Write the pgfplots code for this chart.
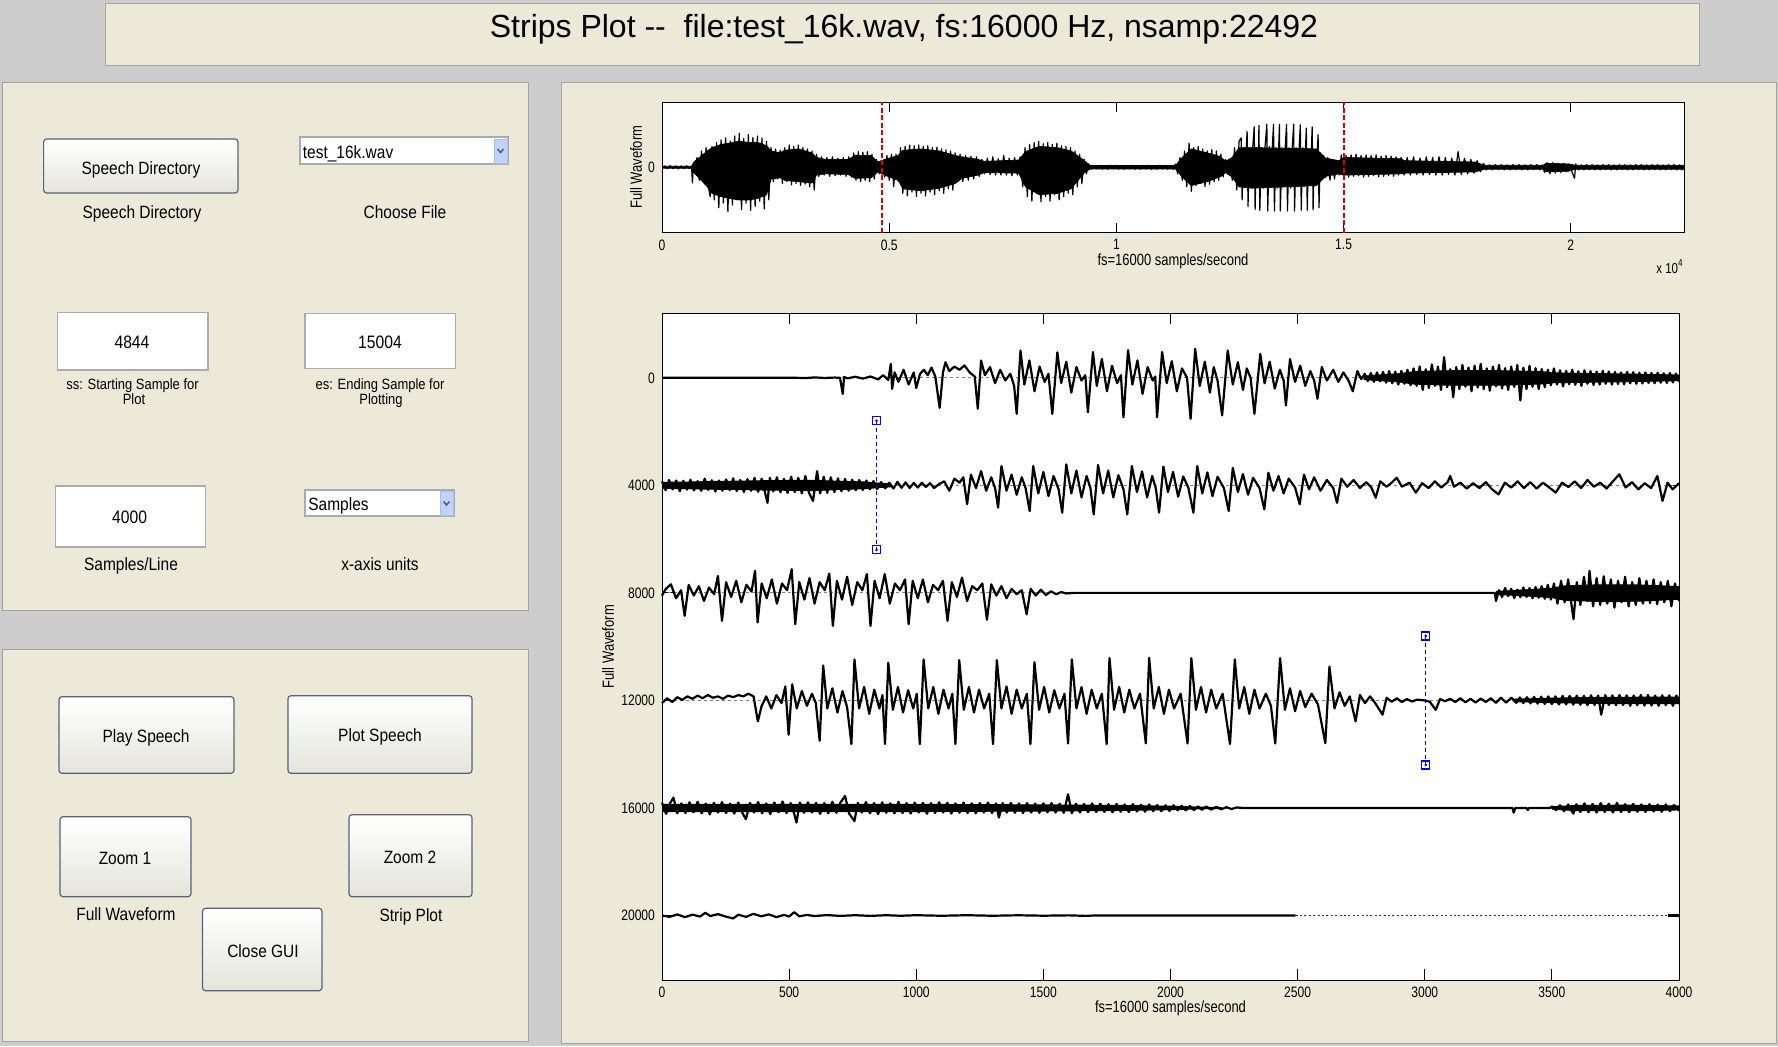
\documentclass[border=0pt]{standalone}
\usepackage{pgfplots}
\pgfplotsset{compat=1.18}
\usepackage{fontspec}
\setmainfont{Liberation Sans}
\newfontfamily\guifont[FakeStretch=0.87]{Liberation Sans}
\newfontfamily\plotfont[FakeStretch=0.8]{Liberation Sans}
\definecolor{guibg}{RGB}{205,205,205}
\definecolor{beige}{RGB}{236,233,216}
\definecolor{panelline}{RGB}{165,165,160}
\definecolor{btnborder}{RGB}{85,100,120}
\definecolor{btnbot}{RGB}{228,228,220}
\definecolor{editborder}{RGB}{168,172,176}
\definecolor{arrowfill}{RGB}{193,211,251}
\definecolor{arrowline}{RGB}{170,190,235}
\definecolor{arrowdark}{RGB}{77,97,133}
\definecolor{mred}{RGB}{225,0,0}
\definecolor{mblue}{RGB}{0,0,255}
\tikzset{
 panel/.style={fill=beige, draw=panelline, line width=0.5pt},
 btn/.style={draw=btnborder, line width=0.6pt, rounded corners=1.5pt, top color=white, bottom color=btnbot},
 edit/.style={draw=editborder, line width=0.6pt, fill=white},
 arrowbox/.style={draw=arrowline, line width=0.4pt, fill=arrowfill},
 chev/.style={draw=arrowdark, line width=0.8pt},
 gui/.style={anchor=base, inner sep=0pt, font=\guifont\fontsize{8.9}{10}\selectfont},
 guis/.style={anchor=base, inner sep=0pt, font=\guifont\fontsize{7.45}{9}\selectfont},
 guib/.style={anchor=base, inner sep=0pt, font=\guifont\fontsize{9}{10}\selectfont},
}
\pgfplotsset{
 rowax/.style={at={(331pt,#1)}, anchor=west, scale only axis, width=508.5pt, height=53.765pt,
   xmin=0, xmax=4000, ymin=-2000, ymax=2000, hide axis, clip=false},
 wave/.style={black, line width=1.1pt, line join=round},
 core/.style={fill=black, draw=black, line width=0.6pt, line join=round},
 base/.style={gray, line width=0.4pt, dash pattern=on 1.5pt off 1.5pt},
}
\begin{document}
\begin{tikzpicture}
\begin{scope}[x=0.5pt,y=-0.5pt]
\fill[guibg] (0,0) rectangle (1778,1046);
\draw[panel] (105,3) rectangle (1699,65);
\draw[panel] (2,82) rectangle (528,610);
\draw[panel] (2,649) rectangle (528,1041);
\draw[panel] (561,82) rectangle (1776,1043);
\node[anchor=base, inner sep=0pt, font=\fontsize{16}{19}\selectfont] at (904,37) {Strips Plot -{}-\ \ file:test\_16k.wav, fs:16000 Hz, nsamp:22492};
% upper left panel
\draw[btn] (43.6,139) rectangle (238,193);
\node[gui] at (141,174) {Speech Directory};
\node[gui] at (142,218) {Speech Directory};
\draw[edit] (300,137) rectangle (508,164);
\draw[arrowbox] (494,139) rectangle (507,163);
\draw[chev] (497.5,149) -- (500.5,152.5) -- (503.5,149);
\node[gui, anchor=base west] at (302.5,158) {test\_16k.wav};
\node[gui] at (405,218) {Choose File};
\draw[edit] (57.5,312.5) rectangle (208,370);
\node[guib] at (132,348.5) {4844};
\node[guis] at (132.5,389.5) {ss: Starting Sample for};
\node[guis] at (134,404.5) {Plot};
\draw[edit] (305,313.6) rectangle (455.7,368.6);
\node[guib] at (380,348.5) {15004};
\node[guis] at (380,389.5) {es: Ending Sample for};
\node[guis] at (381,404.5) {Plotting};
\draw[edit] (55.7,486) rectangle (205.7,547);
\node[guib] at (129.6,523.5) {4000};
\node[gui] at (131,570) {Samples/Line};
\draw[edit] (305,490) rectangle (454,516);
\draw[arrowbox] (440,491.5) rectangle (453,515);
\draw[chev] (443.5,501.5) -- (446.5,505) -- (449.5,501.5);
\node[gui, anchor=base west] at (308,510) {Samples};
\node[gui] at (380,570) {x-axis units};
% lower left panel
\draw[btn] (59,696.7) rectangle (234,773.3);
\node[gui] at (146,742.7) {Play Speech};
\draw[btn] (288,695.7) rectangle (472,773.3);
\node[gui] at (380,741.7) {Plot Speech};
\draw[btn] (60,816.7) rectangle (191,896.7);
\node[gui] at (125,864.4) {Zoom 1};
\node[gui] at (126,920) {Full Waveform};
\draw[btn] (349,814.7) rectangle (472,896.7);
\node[gui] at (410,863.7) {Zoom 2};
\node[gui] at (411,921) {Strip Plot};
\draw[btn] (202.5,908.3) rectangle (322,990.7);
\node[gui] at (263,957.4) {Close GUI};
\node[anchor=base east, inner sep=0pt, font=\plotfont\fontsize{7.2}{9}\selectfont] at (1684,273) {x 10\textsuperscript{4}};
\end{scope}

% ---------------- top: full waveform ----------------
\begin{axis}[
 at={(331pt,-51pt)}, anchor=north west,
 scale only axis, width=511pt, height=65.25pt,
 xmin=0, xmax=22492, ymin=-1, ymax=1,
 axis background/.style={fill=white},
 axis line style={black, line width=0.5pt},
 tick style={black, line width=0.5pt},
 tick align=inside, xtick pos=both, ytick pos=both,
 major tick length=5pt,
 xtick={0,5000,10000,15000,20000},
 xticklabels={0,0.5,1,1.5,2},
 ytick={0}, yticklabels={0},
 scaled ticks=false,
 /pgf/number format/assume math mode=true,
 tick label style={font=\plotfont\fontsize{7.55}{9}\selectfont},
 label style={font=\plotfont\fontsize{8.1}{10}\selectfont},
 xlabel={fs=16000 samples/second},
 ylabel={Full Waveform},
 xlabel style={at={(axis description cs:0.5,-0.222)}, anchor=center},
 ylabel style={at={(axis description cs:-0.0254,0.5)}, anchor=center},
]
% dense core of the waveform (envelope)
\addplot[fill=black, draw=black, line width=0.4pt, line join=round] coordinates {
(0,.015)(650,.015)(700,.08)(1000,.25)(1100,.3)(1300,.35)(1500,.37)(1700,.4)(1900,.38)(2100,.38)(2300,.33)(2400,.25)(2600,.22)(2700,.26)(3000,.28)(3300,.22)(3400,.15)(3600,.12)(4100,.12)(4250,.18)(4600,.18)(4750,.08)(4900,.12)(5200,.18)(5300,.26)(5700,.28)(6100,.25)(6450,.18)(6600,.16)(6950,.12)(7100,.09)(7850,.11)(8000,.24)(8300,.32)(8700,.3)(9000,.25)(9300,.1)(9420,.025)(11300,.025)(11450,.15)(11650,.28)(12000,.22)(12300,.16)(12400,.09)(12550,.15)(12700,.3)(13000,.3)(14400,.28)(14600,.14)(14900,.1)(15000,.15)(16250,.13)(16350,.1)(17900,.08)(18100,.03)(19400,.03)(19450,.06)(19950,.05)(20100,.03)(22492,.03)
(22492,-.03)(20100,-.03)(19950,-.06)(19450,-.07)(19400,-.03)(18100,-.03)(17900,-.07)(16350,-.09)(16250,-.1)(15000,-.12)(14900,-.1)(14600,-.14)(14400,-.28)(13000,-.32)(12700,-.3)(12550,-.15)(12400,-.08)(12300,-.14)(12000,-.22)(11650,-.28)(11450,-.15)(11300,-.025)(9420,-.025)(9300,-.08)(9000,-.33)(8700,-.4)(8300,-.42)(8000,-.3)(7850,-.09)(7100,-.08)(6950,-.12)(6600,-.17)(6450,-.25)(6100,-.32)(5700,-.36)(5300,-.33)(5200,-.2)(4900,-.12)(4750,-.07)(4600,-.16)(4250,-.17)(4100,-.11)(3600,-.1)(3400,-.12)(3300,-.24)(3000,-.22)(2700,-.2)(2600,-.16)(2400,-.18)(2300,-.42)(2100,-.48)(1900,-.5)(1700,-.5)(1500,-.48)(1300,-.45)(1100,-.4)(1000,-.3)(700,-.08)(650,-.015)(0,-.015)
};
\addplot[black, line width=0.6pt, line join=round] coordinates {
(0,0)(60,.02)(120,-.02)(180,.025)(240,-.02)(300,.02)(360,-.025)(420,.02)(480,-.02)(540,.025)(600,-.02)(650,.01)(670,-.24)(690,.05)(720,-.1)(770,.15)(820,-.2)(870,.25)(920,-.18)(970,.3)(1020,-.3)(1060,-.45)(1100,.32)
(1150,-.5)(1200,.38)(1250,-.62)(1300,.42)(1350,-.55)(1400,.45)(1450,-.68)(1500,.4)(1550,-.58)(1600,.48)(1650,-.5)(1700,.52)(1750,-.65)(1800,.44)(1850,-.55)(1900,.5)(1950,-.66)(2000,.46)(2050,-.6)(2100,.48)(2150,-.52)(2200,.45)(2250,-.64)(2300,.4)(2350,-.5)
(2400,.3)(2450,-.22)(2500,.28)(2550,-.18)(2600,.26)
(2650,-.25)(2700,.3)(2750,-.22)(2800,.34)(2850,-.27)(2900,.32)(2950,-.25)(3000,.34)(3050,-.28)(3100,.3)(3150,-.26)(3200,.28)(3250,-.3)(3300,.25)(3350,-.35)(3400,.2)
(3450,-.14)(3510,.16)(3570,-.12)(3630,.15)(3690,-.14)(3750,.16)(3810,-.13)(3870,.14)(3930,-.12)(3990,.15)(4050,-.14)(4110,.16)(4170,-.15)
(4220,.22)(4270,-.2)(4320,.24)(4370,-.22)(4420,.23)(4470,-.2)(4520,.24)(4570,-.22)(4620,.2)(4670,-.18)(4720,.12)(4780,-.1)(4840,.08)
(4900,-.15)(4950,.18)(5000,-.2)(5050,.2)(5100,-.3)(5150,.2)(5200,-.22)
(5250,.3)(5300,-.4)(5350,.32)(5400,-.44)(5450,.34)(5500,-.38)(5550,.33)(5600,-.45)(5650,.34)(5700,-.4)(5750,.32)(5800,-.44)(5850,.33)(5900,-.38)(5950,.3)(6000,-.42)(6050,.31)(6100,-.36)(6150,.28)(6200,-.4)(6250,.27)(6300,-.33)(6350,.25)(6400,-.35)(6450,.22)
(6500,-.2)(6560,.2)(6620,-.22)(6680,.18)(6740,-.2)(6800,.17)(6860,-.18)(6920,.16)(6980,-.14)
(7040,.12)(7100,-.1)(7160,.14)(7220,-.11)(7280,.16)(7340,-.12)(7400,.13)(7460,-.12)(7520,.18)(7580,-.12)(7640,.14)(7700,-.13)(7760,.15)(7820,-.12)(7880,.16)
(7940,-.3)(7990,.3)(8040,-.45)(8090,.35)(8140,-.52)(8190,.38)(8240,-.4)(8290,.4)(8340,-.53)(8390,.36)(8440,-.45)(8490,.38)(8540,-.52)(8590,.35)(8640,-.42)(8690,.37)(8740,-.5)(8790,.33)(8840,-.45)(8890,.32)(8940,-.4)(8990,.3)(9040,-.42)(9090,.25)(9140,-.3)(9190,.2)(9240,-.25)(9290,.12)(9340,-.1)(9390,.05)
(9450,-.03)(9510,.03)(9570,-.025)(9630,.03)(9690,-.03)(9750,.025)(9810,-.03)(9870,.03)(9930,-.025)(9990,.03)(10050,-.03)(10110,.025)(10170,-.03)(10230,.03)(10290,-.025)(10350,.03)(10410,-.03)(10470,.025)(10530,-.03)(10590,.03)(10650,-.025)(10710,.03)(10770,-.03)(10830,.025)(10890,-.03)(10950,.03)(11010,-.025)(11070,.03)(11130,-.03)(11190,.025)(11250,-.03)(11300,.05)
(11350,-.1)(11400,.15)(11450,-.2)(11500,.25)(11550,-.3)(11600,.37)(11650,-.37)(11700,.3)(11750,-.28)(11800,.32)(11850,-.25)(11900,.28)(11950,-.3)(12000,.25)(12050,-.26)(12100,.27)(12150,-.22)(12200,.25)(12250,-.2)(12300,.2)(12350,-.15)
(12400,.12)(12450,-.1)(12500,.12)(12550,-.2)(12600,.3)(12650,-.35)(12700,.4)
(12747,.45)(12767,-.5)(12797,.3)(12827,-.3)(12857,.28)
(12877,.55)(12897,-.6)(12930,.3)(12965,-.32)(13000,.3)
(13033,.62)(13053,-.65)(13080,.3)(13110,-.3)
(13137,.64)(13157,-.66)(13190,.3)(13230,-.32)(13270,.3)
(13311,.66)(13331,-.67)(13365,.32)(13400,-.3)(13430,.3)
(13458,.66)(13478,-.67)(13510,.3)(13545,-.32)(13570,.28)
(13588,.66)(13608,-.67)(13645,.3)(13680,-.3)(13715,.3)
(13745,.66)(13765,-.67)(13800,.3)(13835,-.32)(13870,.3)
(13901,.66)(13921,-.67)(13955,.3)(13990,-.3)(14020,.28)
(14048,.65)(14068,-.66)(14100,.3)(14130,-.3)(14160,.27)
(14180,.6)(14200,-.66)(14230,.28)(14260,-.28)(14290,.25)
(14309,.62)(14329,-.65)(14360,.25)(14390,-.25)(14420,.22)
(14439,.5)(14459,-.62)(14490,.22)(14520,-.2)(14560,.18)(14600,-.16)
(14650,.15)(14700,-.2)(14750,.12)(14800,-.18)(14850,.1)(14900,-.12)
(14950,.19)(15000,-.14)(15055,.18)(15110,-.15)(15165,.19)(15220,-.14)(15275,.2)(15330,-.13)(15385,.18)(15440,-.15)(15495,.19)(15550,-.14)(15605,.18)(15660,-.13)(15715,.19)(15770,-.15)(15825,.17)(15880,-.14)(15935,.18)(15990,-.13)(16045,.17)(16100,-.14)(16155,.16)(16210,-.12)(16265,.15)
(16330,-.12)(16400,.15)(16470,-.12)(16540,.16)(16610,-.11)(16680,.14)(16750,-.12)(16820,.16)(16890,-.11)(16960,.15)(17030,-.12)(17100,.16)(17170,-.12)(17240,.15)(17310,-.11)(17380,.14)(17450,-.12)(17520,.24)(17590,-.11)(17660,.14)(17730,-.1)(17800,.12)(17870,-.09)(17940,.1)(18010,-.07)(18080,.06)
(18145,-.04)(18210,.035)(18275,-.04)(18340,.04)(18405,-.035)(18470,.04)(18535,-.04)(18600,.035)(18665,-.04)(18730,.04)(18795,-.035)(18860,.04)(18925,-.04)(18990,.035)(19055,-.04)(19120,.04)(19185,-.035)(19250,.04)(19315,-.04)(19380,.035)
(19420,-.08)(19480,.07)(19540,-.1)(19600,.07)(19660,-.09)(19720,.06)(19780,-.08)(19840,.06)(19900,-.07)(19960,.05)(20020,-.06)(20082,-.17)(20110,.05)
(20170,-.04)(20230,.035)(20290,-.04)(20350,.04)(20410,-.035)(20470,.04)(20530,-.04)(20590,.035)(20650,-.04)(20710,.04)(20770,-.035)(20830,.04)(20890,-.04)(20950,.035)(21010,-.04)(21070,.04)(21130,-.035)(21190,.04)(21250,-.04)(21310,.035)(21370,-.04)(21430,.04)(21490,-.035)(21550,.04)(21610,-.04)(21670,.035)(21730,-.04)(21790,.04)(21850,-.035)(21910,.04)(21970,-.04)(22030,.035)(22090,-.04)(22150,.04)(22210,-.035)(22270,.04)(22330,-.04)(22390,.035)(22450,-.04)(22492,.02)
};
\addplot[mred, line width=0.75pt, dash pattern=on 2.5pt off 1.25pt] coordinates {(4844,-1)(4844,1)};
\addplot[mred, line width=0.75pt, dash pattern=on 2.5pt off 1.25pt] coordinates {(15004,-1)(15004,1)};
\end{axis}

% ---------------- bottom: strip plot frame ----------------
\begin{axis}[
 at={(331pt,-156.65pt)}, anchor=north west,
 scale only axis, width=508.5pt, height=333.35pt,
 xmin=0, xmax=4000, ymin=-2400, ymax=22400, y dir=reverse,
 axis background/.style={fill=white},
 axis line style={black, line width=0.5pt},
 tick style={black, line width=0.5pt},
 tick align=inside, xtick pos=both, ytick pos=both,
 major tick length=5.5pt,
 xtick={0,500,1000,1500,2000,2500,3000,3500,4000},
 ytick={0,4000,8000,12000,16000,20000},
 scaled ticks=false,
 /pgf/number format/1000 sep={},
 /pgf/number format/assume math mode=true,
 tick label style={font=\plotfont\fontsize{7.55}{9}\selectfont},
 label style={font=\plotfont\fontsize{8.1}{10}\selectfont},
 xlabel={fs=16000 samples/second},
 ylabel={Full Waveform},
 xlabel style={at={(axis description cs:0.5,-0.04245)}, anchor=center},
 ylabel style={at={(axis description cs:-0.0531,0.5)}, anchor=center},
]
\end{axis}

% row 0
\begin{axis}[rowax=-188.91pt]
\addplot[base] coordinates {(0,0)(4000,0)};
\addplot[core] coordinates {(2760,60)(2900,150)(2960,230)(3100,260)(3300,260)(3470,220)(3500,180)(3700,150)(3900,120)(4000,100)(4000,-100)(3900,-120)(3700,-150)(3500,-180)(3470,-220)(3300,-270)(3100,-270)(2960,-230)(2900,-150)(2760,-60)};
\addplot[wave] coordinates {
(0,0)(300,0)(520,5)(560,-10)(600,15)(640,-5)(680,10)(700,0)(711,-600)(716,30)(730,-20)(760,40)(790,-30)(820,50)(850,-60)(870,100)(890,-80)(900,520)(905,-410)(915,200)(930,-150)(950,300)(970,-250)(990,200)(1000,-380)(1015,150)(1030,300)(1045,100)(1060,380)(1075,50)(1092,-1116)(1105,200)(1115,580)(1130,250)(1150,420)(1170,300)(1190,460)(1210,200)(1230,50)(1242,-1150)(1255,645)(1270,100)(1290,400)(1310,-200)(1330,300)(1350,-100)(1370,150)(1385,-300)(1395,-1340)(1410,1017)(1425,-250)(1445,650)(1465,-500)(1485,420)(1505,-150)(1520,150)(1535,-1340)(1555,950)(1570,-200)(1590,600)(1610,-550)(1630,400)(1650,-100)(1665,100)(1675,-1280)(1695,960)(1710,-300)(1730,700)(1750,-500)(1770,450)(1790,-200)(1805,100)(1815,-1470)(1833,1030)(1850,-250)(1870,650)(1890,-600)(1910,400)(1930,-100)(1940,50)(1947,-1470)(1967,960)(1985,-200)(2005,620)(2025,-500)(2045,350)(2065,0)(2079,-1525)(2097,1080)(2115,-300)(2135,600)(2155,-550)(2170,400)(2185,-100)(2203,-1400)(2225,1017)(2245,-250)(2265,580)(2285,-450)(2300,350)(2315,0)(2330,-1340)(2353,890)(2370,-200)(2390,600)(2410,-400)(2430,300)(2445,-100)(2454,-1030)(2470,700)(2490,-150)(2510,450)(2530,-300)(2550,250)(2565,-100)(2578,-780)(2595,400)(2615,-100)(2640,300)(2660,-150)(2680,200)(2700,-100)(2717,-500)(2735,250)(2750,-50)
(2764,150)(2776,-120)(2788,180)(2800,-150)(2812,200)(2824,-130)(2836,220)(2848,-180)(2860,250)(2872,-200)(2884,230)(2896,-250)(2908,260)(2920,-220)(2932,300)(2944,-280)
(2956,350)(2968,-300)(2980,420)(2992,-450)(3004,320)(3016,-380)(3028,500)(3040,-300)(3052,420)(3064,-450)(3076,770)(3088,-350)(3100,320)(3112,-720)(3124,400)(3136,-420)(3148,480)(3160,-330)(3172,380)(3184,-500)(3196,450)(3208,-360)(3220,520)(3232,-420)(3244,350)(3256,-480)(3268,420)(3280,-320)(3292,480)(3304,-400)(3316,360)(3328,-450)(3340,420)(3352,-340)(3364,480)(3376,-840)(3388,380)(3400,-420)(3412,450)(3424,-330)(3436,360)(3448,-420)(3460,330)(3472,-350)
(3484,300)(3496,-280)(3508,350)(3520,-250)(3532,280)(3544,-320)(3556,260)(3568,-240)(3580,300)(3592,-260)(3604,240)(3616,-300)(3628,280)(3640,-220)(3652,250)(3664,-270)(3676,230)(3688,-250)(3700,260)(3712,-220)(3724,240)(3736,-250)(3748,220)(3760,-230)(3772,200)(3784,-240)(3796,220)(3808,-200)(3820,210)(3832,-220)(3844,190)(3856,-210)(3868,200)(3880,-190)(3892,180)(3904,-200)(3916,190)(3928,-180)(3940,170)(3952,-190)(3964,180)(3976,-170)(3988,160)(4000,-150)
};
\end{axis}

% row 1
\begin{axis}[rowax=-242.675pt]
\addplot[base] coordinates {(0,0)(4000,0)};
\addplot[core] coordinates {(0,110)(100,120)(200,140)(300,150)(400,170)(500,180)(600,180)(700,150)(800,120)(850,80)(900,50)(900,-50)(850,-80)(800,-120)(700,-150)(600,-190)(500,-180)(400,-170)(300,-150)(200,-140)(100,-120)(0,-110)};
\addplot[wave] coordinates {
(0,150)(14,-180)(28,200)(42,-150)(56,180)(70,-220)(84,170)(98,-160)(112,210)(126,-190)(140,160)(154,-200)(168,250)(182,-170)(196,190)(210,-230)(224,180)(238,-200)(252,220)(266,-180)(280,260)(294,-210)(308,200)(322,-250)(336,230)(350,-200)(364,280)(378,-240)(392,250)(406,-300)(415,-650)(424,280)(438,-220)(452,300)(466,-260)(480,240)(494,-280)(508,320)(522,-250)(536,280)(550,-300)(564,350)(578,-280)(594,-580)(610,530)(622,-300)(636,320)(650,-280)(664,300)(678,-250)(692,260)(706,-220)(720,240)(734,-200)(748,210)(762,-180)(776,200)(790,-170)(804,180)(818,-150)(832,160)(846,-140)
(862,120)(878,-110)(894,100)(910,-120)(926,130)(942,-90)(958,110)(974,-100)(990,90)(1006,-80)(1022,100)(1038,-60)(1054,80)(1070,-100)(1090,50)
(1110,150)(1130,-200)(1150,250)(1170,100)(1185,300)(1200,-700)(1215,400)(1235,-100)(1255,530)(1275,-200)(1295,300)(1310,-100)(1322,-830)(1335,720)(1355,-200)(1375,400)(1395,-350)(1415,300)(1430,-100)(1446,-955)(1460,720)(1480,-300)(1500,500)(1520,-400)(1540,350)(1560,-150)(1574,-1017)(1590,780)(1610,-300)(1630,550)(1650,-450)(1670,350)(1685,-100)(1698,-1080)(1715,760)(1735,-300)(1755,550)(1775,-450)(1795,380)(1815,-150)(1830,-1080)(1848,720)(1868,-250)(1888,520)(1908,-450)(1928,350)(1942,-100)(1955,-1017)(1972,700)(1990,-250)(2010,500)(2030,-420)(2050,330)(2070,-80)(2090,-1017)(2105,720)(2125,-300)(2145,480)(2165,-400)(2185,320)(2210,-100)(2229,-955)(2245,650)(2265,-250)(2285,420)(2305,-350)(2325,280)(2350,-100)(2369,-890)(2385,470)(2405,-200)(2425,350)(2445,-300)(2465,250)(2490,-80)(2508,-700)(2525,400)(2545,-150)(2565,300)(2590,-200)(2615,200)(2640,-100)(2655,-650)(2672,250)(2695,-50)(2720,200)(2745,-100)(2770,120)(2790,-80)(2807,-460)(2825,150)(2850,-50)(2870,100)(2890,285)(2910,-50)(2940,100)(2965,-270)(2990,80)
(3015,-100)(3040,150)(3065,-80)(3090,120)(3100,350)(3115,-50)(3140,100)(3165,-120)(3190,80)(3215,-100)(3240,120)(3265,-150)(3290,-335)(3315,100)(3340,-80)(3365,150)(3390,-100)(3415,120)(3440,-120)(3465,100)(3490,-80)(3515,-270)(3540,100)(3565,-60)(3590,150)(3615,-100)(3640,200)(3665,-50)(3690,100)(3715,-120)(3740,150)(3765,410)(3790,-80)(3815,120)(3840,-150)(3865,80)(3890,-100)(3915,350)(3935,-580)(3955,100)(3975,-150)(4000,80)
};
\end{axis}

% row 2
\begin{axis}[rowax=-296.44pt]
\addplot[base] coordinates {(0,0)(4000,0)};
\addplot[core] coordinates {(3280,50)(3400,110)(3500,170)(3550,260)(3700,300)(3850,290)(4000,230)(4000,-230)(3850,-300)(3700,-320)(3550,-270)(3500,-170)(3400,-110)(3280,-50)};
\addplot[wave] coordinates {
(0,-100)(15,150)(35,320)(55,-200)(75,100)(89,-855)(105,300)(125,-100)(145,250)(165,-300)(185,200)(205,-50)(220,630)(236,-1040)(252,400)(272,-150)(292,450)(312,-350)(332,300)(352,50)(366,820)(376,-1100)(392,350)(412,-200)(432,500)(452,-400)(472,350)(492,100)(510,880)(524,-1165)(540,400)(560,-250)(580,550)(600,-400)(620,400)(640,100)(658,720)(672,-1228)(688,450)(708,-250)(728,600)(748,-450)(768,400)(788,100)(806,700)(820,-1228)(836,450)(856,-200)(876,700)(896,-400)(916,350)(936,100)(956,500)(970,-1165)(986,450)(1006,-200)(1026,500)(1046,-350)(1066,300)(1086,100)(1105,450)(1123,-1040)(1140,400)(1160,-150)(1180,570)(1200,-300)(1220,250)(1240,100)(1260,350)(1278,-1000)(1295,320)(1315,-100)(1335,250)(1355,-200)(1375,150)(1395,-50)(1415,100)(1434,-795)(1450,150)(1470,-100)(1490,120)(1510,-80)(1530,60)(1550,-50)(1570,30)(1590,-20)(1620,0)
(3276,0)(3280,-300)(3292,100)(3304,-150)(3316,180)(3328,-120)(3340,150)(3352,-190)(3364,120)(3376,-160)(3388,200)(3400,-150)(3412,180)(3424,-200)(3436,220)(3448,-180)(3460,250)(3472,-220)(3484,300)(3496,-250)(3508,350)
(3522,-400)(3536,450)(3550,-350)(3564,500)(3578,-500)(3585,-980)(3598,400)(3612,-450)(3626,600)(3640,-300)(3648,820)(3662,-500)(3676,550)(3690,-450)(3704,620)(3718,-400)(3732,500)(3746,-550)(3760,450)(3774,-350)(3788,600)(3802,-500)(3816,400)(3830,-450)(3844,550)(3858,-400)(3872,450)(3886,-380)(3900,500)(3914,-420)(3928,400)(3942,-350)(3956,450)(3970,-500)(3984,350)(4000,-300)
};
\end{axis}

% row 3
\begin{axis}[rowax=-350.205pt]
\addplot[base] coordinates {(0,0)(4000,0)};
\addplot[core] coordinates {(3350,40)(3500,80)(3700,110)(4000,120)(4000,-120)(3700,-110)(3500,-80)(3350,-40)};
\addplot[wave] coordinates {
(0,-100)(20,80)(40,-60)(60,120)(80,20)(100,150)(120,60)(140,180)(160,80)(180,200)(200,100)(220,150)(240,60)(260,180)(280,120)(300,200)(320,150)(340,250)(360,150)(377,-780)(392,-200)(410,150)(430,-300)(450,200)(470,-100)(485,520)(498,-1277)(512,600)(530,-300)(550,350)(570,-200)(590,250)(605,-100)
(620,-1500)(634,1300)(650,-300)(670,450)(690,-450)(710,350)(728,-250)
(745,-1624)(757,1525)(775,-300)(795,500)(815,-500)(835,400)(855,-300)(867,200)
(877,-1624)(890,1400)(908,-350)(928,500)(948,-450)(968,380)(988,-300)(1002,250)
(1014,-1624)(1029,1525)(1047,-300)(1067,500)(1087,-500)(1107,400)(1127,-300)(1142,250)
(1154,-1624)(1169,1500)(1187,-350)(1207,500)(1227,-450)(1247,400)(1267,-300)(1287,250)
(1302,-1624)(1317,1500)(1335,-300)(1355,520)(1375,-500)(1395,400)(1415,-300)(1435,250)
(1449,-1624)(1465,1420)(1483,-350)(1503,500)(1523,-450)(1543,380)(1563,-300)(1583,250)
(1597,-1600)(1612,1525)(1630,-300)(1650,500)(1670,-500)(1690,400)(1710,-300)(1730,250)
(1749,-1624)(1760,1580)(1778,-350)(1798,500)(1818,-450)(1838,400)(1858,-300)(1880,250)
(1903,-1600)(1916,1580)(1934,-300)(1954,500)(1974,-500)(1994,400)(2014,-300)(2040,250)
(2067,-1600)(2082,1575)(2100,-350)(2120,500)(2140,-450)(2160,400)(2180,-300)(2205,250)
(2234,-1624)(2253,1525)(2270,-300)(2290,500)(2310,-500)(2330,400)(2350,-300)(2375,250)(2395,-200)
(2412,-1600)(2431,1575)(2450,-350)(2470,450)(2490,-400)(2510,350)(2530,-250)(2555,250)(2580,-150)
(2609,-1590)(2625,1260)(2645,-300)(2665,300)(2685,-200)(2705,150)(2728,-780)(2745,200)(2765,-100)(2785,150)(2805,-100)(2834,-530)(2850,100)(2870,-50)(2890,80)(2910,-60)(2930,50)(2950,-40)(2970,30)(3000,0)(3020,-50)(3043,-350)(3060,50)(3080,-30)(3100,60)
(3120,-60)(3140,80)(3160,-70)(3180,60)(3200,-80)(3220,70)(3240,-60)(3260,80)(3280,-90)(3300,100)(3320,-80)(3340,100)
(3360,-90)(3374,110)(3388,-100)(3402,120)(3416,-110)(3430,130)(3444,-120)(3458,140)(3472,-130)(3486,150)(3500,-140)(3514,150)(3528,-150)(3542,170)(3556,-150)(3570,170)(3584,-160)(3598,180)(3612,-160)(3626,170)(3640,-180)(3654,190)(3668,-170)(3682,180)(3694,-530)(3710,200)(3724,-170)(3738,190)(3752,-180)(3766,200)(3780,-170)(3794,190)(3808,-200)(3822,180)(3836,-180)(3850,200)(3864,-190)(3878,200)(3892,-190)(3906,180)(3920,-200)(3934,190)(3948,-180)(3962,190)(3976,-200)(3990,180)(4000,-120)
};
\end{axis}

% row 4
\begin{axis}[rowax=-403.97pt]
\addplot[base] coordinates {(0,0)(4000,0)};
\addplot[core] coordinates {(0,130)(500,130)(1000,130)(1500,110)(1800,90)(2000,60)(2100,30)(2200,15)(2200,-15)(2100,-30)(2000,-60)(1800,-90)(1500,-110)(1000,-130)(500,-130)(0,-130)};
\addplot[core] coordinates {(3500,40)(3600,90)(3800,100)(4000,70)(4000,-70)(3800,-100)(3600,-100)(3500,-40)};
\addplot[wave] coordinates {
(0,200)(16,-220)(32,180)(45,385)(60,-200)(76,170)(92,-190)(108,210)(124,-160)(140,230)(156,-200)(172,160)(188,-240)(204,190)(220,-170)(236,220)(252,-190)(268,160)(284,-210)(300,200)(316,-180)(330,-420)(346,190)(362,-170)(378,220)(394,-200)(410,170)(426,-230)(442,200)(458,-160)(474,240)(490,-190)(506,180)(520,-220)(529,-545)(542,200)(558,-180)(574,210)(590,-170)(606,190)(622,-220)(638,180)(654,-200)(670,230)(686,-180)(702,200)(720,446)(736,-210)(757,-490)(770,190)(786,-170)(802,220)(818,-200)(834,180)(850,-230)(866,210)(882,-180)(898,170)(914,-200)(930,230)(946,-190)(962,180)(978,-210)(994,200)(1010,-170)(1026,190)(1042,-220)(1058,180)(1074,-190)(1090,210)(1106,-170)(1122,190)(1138,-210)(1154,170)(1170,-180)(1186,200)(1202,-190)(1218,170)(1234,-200)(1250,180)(1266,-170)(1282,200)(1298,-190)(1314,170)(1325,-360)(1340,180)(1356,-170)(1372,190)(1388,-180)(1404,170)(1420,-190)(1436,180)(1452,-170)(1468,160)(1484,-180)(1500,170)(1516,-160)(1532,180)(1548,-170)(1564,160)(1580,-180)(1597,508)(1612,-200)(1628,160)(1644,-170)(1660,150)(1676,-160)(1692,170)(1708,-150)(1724,160)(1740,-150)(1756,140)(1772,-160)(1788,150)(1804,-140)(1820,130)(1836,-150)(1852,140)(1868,-130)(1884,120)(1900,-140)(1916,130)(1932,-120)(1948,110)(1964,-120)(1980,100)(1996,-110)(2012,100)(2028,-90)
(2044,80)(2060,-90)(2076,70)(2092,-80)(2108,60)(2124,-70)(2140,50)(2160,-60)(2180,40)(2200,-50)(2220,30)(2240,-40)(2260,20)(2284,0)(3345,0)(3350,-175)(3356,0)(3400,0)(3405,-80)(3410,0)(3493,0)
(3500,60)(3516,-80)(3532,100)(3548,-120)(3564,130)(3580,-150)(3585,-210)(3596,140)(3612,-150)(3628,170)(3644,-160)(3660,150)(3676,-170)(3692,180)(3708,-150)(3724,160)(3740,-170)(3756,190)(3772,-150)(3788,140)(3804,-160)(3820,150)(3836,-140)(3852,130)(3868,-150)(3884,140)(3900,-130)(3916,120)(3932,-140)(3948,130)(3964,-120)(3980,110)(4000,-100)
};
\end{axis}

% row 5
\begin{axis}[rowax=-457.735pt]
\addplot[black!80, line width=0.45pt, dash pattern=on 1pt off 1.2pt] coordinates {(2492,0)(3955,0)};
\addplot[wave] coordinates {(3955,0)(4000,0)};
\addplot[wave] coordinates {
(0,0)(30,-50)(60,40)(90,-60)(120,30)(150,-40)(170,100)(190,-20)(220,50)(250,-40)(280,-110)(300,30)(330,-50)(360,60)(390,-30)(420,40)(450,-60)(480,20)(500,-40)(520,124)(540,-30)(570,20)(600,-20)(650,15)(700,-15)(760,10)(820,-15)(880,10)(940,-10)(1000,10)(1100,-10)(1200,10)(1300,-10)(1400,8)(1500,-8)(1600,5)(1667,-15)(1700,0)(2492,0)
};
\end{axis}

% markers (data cursors) on the strip plot
\begin{axis}[
 at={(331pt,-156.65pt)}, anchor=north west,
 scale only axis, width=508.5pt, height=333.35pt,
 xmin=0, xmax=4000, ymin=-2400, ymax=22400, y dir=reverse,
 hide axis, clip=false,
]
\addplot[mblue, line width=0.7pt, dash pattern=on 2pt off 1.5pt] coordinates {(844,1600)(844,6400)};
\addplot[mblue, line width=0.7pt, dash pattern=on 2pt off 1.5pt] coordinates {(3004,9600)(3004,14400)};
\addplot[only marks, mark=square, mark size=2pt, mark options={mblue, solid, line width=0.6pt}] coordinates {(844,1600)(844,6400)(3004,9600)(3004,14400)};
\addplot[only marks, mark=*, mark size=0.45pt, mark options={mblue}] coordinates {(844,1600)(844,6400)(3004,9600)(3004,14400)};
\end{axis}

\pgfresetboundingbox
\path[use as bounding box] (0,0) rectangle (889pt,-523pt);
\end{tikzpicture}
\end{document}
